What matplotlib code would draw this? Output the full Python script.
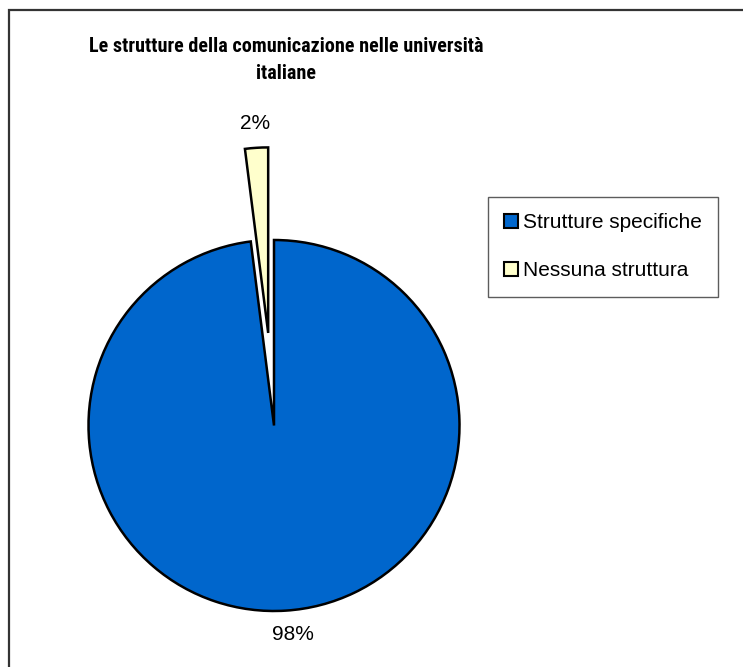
import matplotlib
matplotlib.use("Agg")
import matplotlib.pyplot as plt
from matplotlib.patches import Rectangle

# Quota di atenei con/senza strutture dedicate alla comunicazione
categories = ["Strutture specifiche", "Nessuna struttura"]
shares = [98, 2]
colors = ["#0066CC", "#FFFFCC"]
title = "Le strutture della comunicazione nelle università\nitaliane"

W, H = 743, 667
fig = plt.figure(figsize=(W / 100, H / 100), dpi=100)
fig.patch.set_facecolor("white")
plt.rcParams["font.family"] = ["Liberation Sans", "DejaVu Sans"]

# cornice del grafico
fig.patches.append(Rectangle((9 / W, -0.05), 1.2, (H - 10) / H + 0.05,
                             transform=fig.transFigure, fill=False,
                             edgecolor="#333333", linewidth=1.6))

cx, cy, r = 274, 425.5, 185.5
ax = fig.add_axes([(cx - r) / W, (H - cy - r) / H, 2 * r / W, 2 * r / H])
wedges, texts, autotexts = ax.pie(
    shares, colors=colors, startangle=90, counterclock=False,
    explode=[0, 0.5], autopct="%1.0f%%", pctdistance=1.13,
    wedgeprops=dict(edgecolor="black", linewidth=1.8, clip_on=False),
    textprops=dict(fontsize=15, color="black"))
for t in autotexts:
    t.set_clip_on(False)
x, y = autotexts[0].get_position()
autotexts[0].set_position((x + 0.03, y))
ax.set_xlim(-1, 1)
ax.set_ylim(-1, 1)
ax.axis("off")

fig.text(286 / W, 1 - 60 / H, title, ha="center", va="center",
         fontsize=14.5, fontweight="bold",
         family=["Roboto Condensed", "DejaVu Sans"], linespacing=1.5)

leg = fig.legend(wedges, categories, loc="upper left",
                 bbox_to_anchor=(488 / W, 1 - 197 / H), fontsize=15,
                 frameon=True, fancybox=False, handlelength=0.65, handleheight=0.65,
                 handletextpad=0.25, labelspacing=1.4, borderpad=0.78,
                 borderaxespad=0)
leg.get_frame().set_edgecolor("#333333")
leg.get_frame().set_linewidth(1.0)
for h in leg.legend_handles:
    h.set_linewidth(1.5)

fig.savefig("out.png", dpi=100)
